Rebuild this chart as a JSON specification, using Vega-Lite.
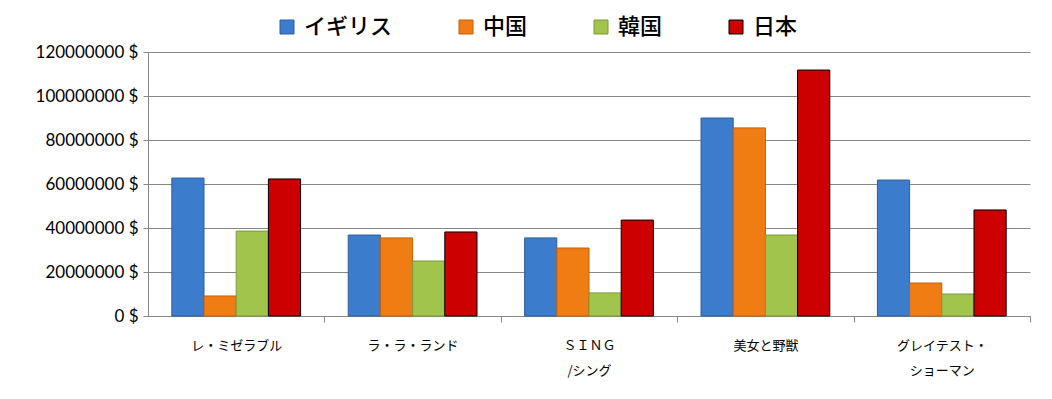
{
  "$schema": "https://vega.github.io/schema/vega-lite/v6.json",
  "width": 882,
  "height": 264,
  "autosize": {"type": "none"},
  "padding": {"left": 148, "top": 52, "right": 22, "bottom": 83},
  "background": "white",
  "config": {"view": {"stroke": null}, "font": "Noto Sans CJK JP"},
  "data": {
    "values": [
      {"movie": "レ・ミゼラブル", "country": "イギリス", "value": 62700000},
      {"movie": "レ・ミゼラブル", "country": "中国", "value": 9100000},
      {"movie": "レ・ミゼラブル", "country": "韓国", "value": 38600000},
      {"movie": "レ・ミゼラブル", "country": "日本", "value": 62300000},
      {"movie": "ラ・ラ・ランド", "country": "イギリス", "value": 36800000},
      {"movie": "ラ・ラ・ランド", "country": "中国", "value": 35500000},
      {"movie": "ラ・ラ・ランド", "country": "韓国", "value": 25000000},
      {"movie": "ラ・ラ・ランド", "country": "日本", "value": 38200000},
      {"movie": "ＳＩＮＧ|/シング", "country": "イギリス", "value": 35500000},
      {"movie": "ＳＩＮＧ|/シング", "country": "中国", "value": 30900000},
      {"movie": "ＳＩＮＧ|/シング", "country": "韓国", "value": 10500000},
      {"movie": "ＳＩＮＧ|/シング", "country": "日本", "value": 43600000},
      {"movie": "美女と野獣", "country": "イギリス", "value": 90000000},
      {"movie": "美女と野獣", "country": "中国", "value": 85500000},
      {"movie": "美女と野獣", "country": "韓国", "value": 36800000},
      {"movie": "美女と野獣", "country": "日本", "value": 111800000},
      {"movie": "グレイテスト・|ショーマン", "country": "イギリス", "value": 61800000},
      {"movie": "グレイテスト・|ショーマン", "country": "中国", "value": 15000000},
      {"movie": "グレイテスト・|ショーマン", "country": "韓国", "value": 10000000},
      {"movie": "グレイテスト・|ショーマン", "country": "日本", "value": 48200000}
    ]
  },
  "mark": {"type": "bar"},
  "encoding": {
    "x": {
      "field": "movie",
      "type": "nominal",
      "sort": null,
      "scale": {"paddingInner": 0.27, "paddingOuter": 0.135},
      "axis": {
        "title": null,
        "labelAngle": 0,
        "labelExpr": "split(datum.label, '|')",
        "labelFont": "Noto Sans CJK JP",
        "labelFontSize": 13,
        "labelColor": "#000000",
        "labelLineHeight": 25,
        "labelPadding": 17,
        "tickOffset": 88.2,
        "labelOffset": -88.2,
        "tickColor": "#868686",
        "tickSize": 6,
        "tickWidth": 1,
        "ticks": true,
        "domainColor": "#868686",
        "grid": false
      }
    },
    "xOffset": {"field": "country", "type": "nominal", "sort": ["イギリス", "中国", "韓国", "日本"]},
    "y": {
      "field": "value",
      "type": "quantitative",
      "scale": {"domain": [0, 120000000]},
      "axis": {
        "title": null,
        "values": [0, 20000000, 40000000, 60000000, 80000000, 100000000, 120000000],
        "labelExpr": "format(datum.value, 'd') + ' $'",
        "labelFont": "Lato",
        "labelFontSize": 17,
        "labelColor": "#000000",
        "labelPadding": 5,
        "tickSize": 5,
        "tickColor": "#868686",
        "domainColor": "#868686",
        "gridColor": "#868686",
        "gridOpacity": 1
      }
    },
    "color": {
      "field": "country",
      "type": "nominal",
      "sort": ["イギリス", "中国", "韓国", "日本"],
      "scale": {
        "domain": ["イギリス", "中国", "韓国", "日本"],
        "range": ["#3c7ccc", "#f07c14", "#a0c44c", "#cc0000"]
      },
      "legend": {
        "title": null,
        "orient": "none",
        "legendX": 128,
        "legendY": -36,
        "direction": "horizontal",
        "symbolType": "square",
        "symbolSize": 196,
        "symbolOpacity": 1,
        "labelFont": "Noto Sans CJK JP",
        "labelFontSize": 22,
        "labelFontWeight": 500,
        "labelColor": "#000000",
        "labelOffset": 6,
        "columnPadding": 62
      }
    },
    "stroke": {
      "field": "country",
      "type": "nominal",
      "scale": {
        "domain": ["イギリス", "中国", "韓国", "日本"],
        "range": ["#2c5f9e", "#c0600c", "#7c9a36", "#000000"]
      },
      "legend": null
    },
    "strokeWidth": {
      "field": "country",
      "type": "nominal",
      "scale": {
        "domain": ["イギリス", "中国", "韓国", "日本"],
        "range": [1, 1, 1, 3]
      },
      "legend": null
    }
  }
}
